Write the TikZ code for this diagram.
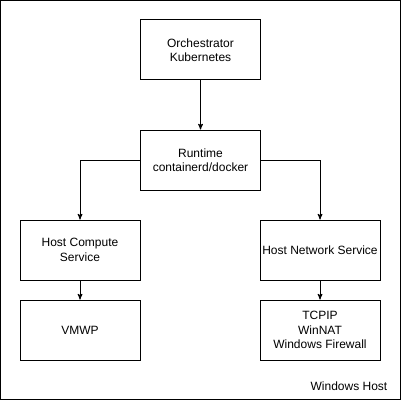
\documentclass[tikz,border=0pt]{standalone}
\usepackage{fontspec}
\setmainfont{Liberation Sans}
\usetikzlibrary{arrows}
\tikzset{>=stealth',
every picture/.append style={
    line join=miter,
    line width=1pt
  },
box/.style={draw, minimum width=120pt, minimum height=60pt, inner sep=0pt,
    align=center, font=\fontsize{12}{14.5}\selectfont}}

\begin{document}
\begin{tikzpicture}[x=1pt,y=-1pt]
        \useasboundingbox (0,0) rectangle (401,401);
        \draw (0.5,0.5) rectangle (400,399.5);

        \node [box] (orch) at (200.5,50) {Orchestrator\\Kubernetes};
        \node [box] (run) at (200.5,160) {Runtime\\containerd/docker};
        \node [box] (hcs) at (80,250) {Host Compute\\Service};
        \node [box] (hns) at (320,250) {Host Network Service};
        \node [box] (vmwp) at (80,330) {VMWP};
        \node [box] (tcp) at (320,330) {TCPIP\\WinNAT\\Windows Firewall};
        \node [font=\fontsize{12}{14.5}\selectfont] (host) at (349,386) {Windows Host};

        \draw [->] (orch) -- (run);
        \draw [->] (run.west) -| (hcs.north);
        \draw [->] (run.east) -| (hns.north);
        \draw [->] (hcs) -- (vmwp);
        \draw [->] (hns) -- (tcp);
    \end{tikzpicture}
\end{document}
